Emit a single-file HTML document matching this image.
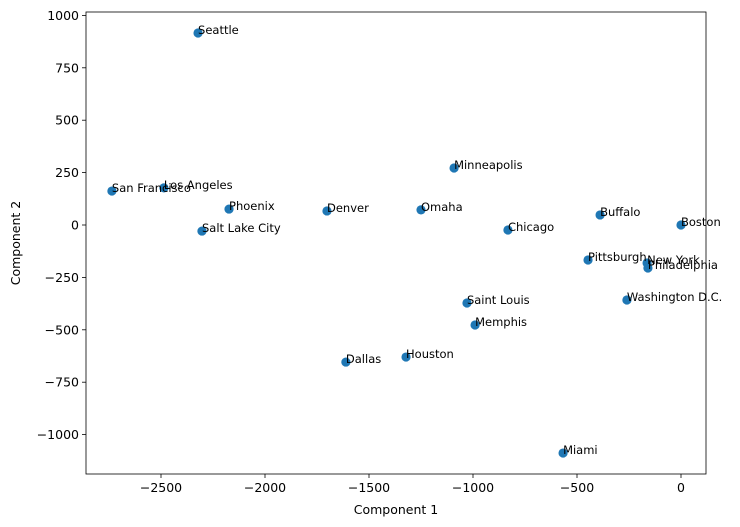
<!DOCTYPE html>
<html><head><meta charset="utf-8"><style>
body{margin:0;background:#fff}
svg{display:block;font-family:"DejaVu Sans","Liberation Sans",sans-serif}
</style></head><body>
<svg id="c" width="740" height="527" xmlns="http://www.w3.org/2000/svg"></svg>
<script>
const cities=["Seattle","San Francisco","Los Angeles","Phoenix","Salt Lake City","Denver","Omaha","Minneapolis","Chicago","Buffalo","Boston","Pittsburgh","New York","Philadelphia","Washington D.C.","Saint Louis","Memphis","Houston","Dallas","Miami"];
const comp1=[-2322,-2736,-2486,-2173,-2303,-1702,-1250,-1091,-832,-389,0,-447,-163,-159,-260,-1029,-990,-1322,-1611,-567];
const comp2=[916,162,177,76,-29,67,72,272,-24,48,0,-167,-181,-205,-358,-372,-477,-630,-654,-1088];
const xTicks=[-2500,-2000,-1500,-1000,-500,0];
const yTicks=[1000,750,500,250,0,-250,-500,-750,-1000];
const L=86,R=706,T=12,B=474;
const X=v=>681+v*0.208;
const Y=v=>225-v*0.2096;
const svg=document.getElementById('c');
const NS='http://www.w3.org/2000/svg';
function mk(t,a,txt){const e=document.createElementNS(NS,t);for(const k in a)e.setAttribute(k,a[k]);if(txt!==undefined)e.textContent=txt;svg.appendChild(e);return e;}
const lab=v=>String(v).replace('-','\u2212');
xTicks.forEach(v=>{
  const l=mk('line',{x1:X(v),x2:X(v),y1:B,y2:B+4,stroke:'#000','stroke-width':0.8});
  
  
  const t=mk('text',{x:X(v),y:B+18,'font-size':12.5,'text-anchor':'middle'},lab(v));
  
  
});
yTicks.forEach(v=>{
  const l=mk('line',{x1:L-4,x2:L,y1:Y(v),y2:Y(v),stroke:'#000','stroke-width':0.8});
  
  
  const t=mk('text',{x:L-7,y:Y(v)+4.5,'font-size':12.5,'text-anchor':'end'},lab(v));
  
  
});
cities.forEach((c,i)=>{
  const d=mk('circle',{cx:X(comp1[i]),cy:Y(comp2[i]),r:4.6,fill:'#1f77b4'});
  
  
});
cities.forEach((c,i)=>{
  const t=mk('text',{x:X(comp1[i]),y:Y(comp2[i])+1,'font-size':11.5},c);
  
  
});
const f=mk('rect',{x:L,y:T,width:R-L,height:B-T,fill:'none',stroke:'#000','stroke-width':0.8});


const xl=mk('text',{x:(L+R)/2,y:514,'font-size':12.5,'text-anchor':'middle'},'Component 1');


const yl=mk('text',{x:20,y:(T+B)/2,'font-size':12.5,'text-anchor':'middle',transform:'rotate(-90 20 '+((T+B)/2)+')'},'Component 2');


</script>
</body></html>
